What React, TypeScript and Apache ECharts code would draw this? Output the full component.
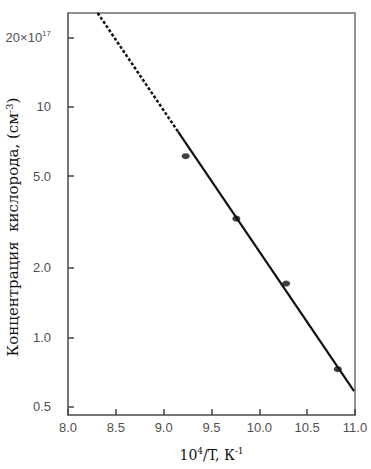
import React, { useEffect, useRef } from "react";
import * as echarts from "echarts";

const pointX = [9.23, 9.76, 10.28, 10.82];
const pointY = [6.1, 3.27, 1.71, 0.727];

const dashedFitX = [8.31, 9.15];
const dashedFitY = [25.5, 7.8];
const solidFitX = [9.15, 10.99];
const solidFitY = [7.8, 0.584];

const yMin = 0.46;
const yMax = 25.5;
const yTickValues = [0.5, 1, 2, 5, 10, 20];
const yTickLabels = ["0.5", "1.0", "2.0", "5.0", "10", "20×10"];

export default function App() {
  const ref = useRef<HTMLDivElement>(null);
  useEffect(() => {
    if (!ref.current) return;
    const chart = echarts.init(ref.current, null, { renderer: "svg" });
    const tickFont = {
      color: "#505050",
      fontFamily: "Liberation Sans, Arial, sans-serif",
      fontSize: 13,
    };
    const serif = "DejaVu Serif, Liberation Serif, serif";
    chart.setOption({
      animation: false,
      backgroundColor: "#fff",
      grid: {
        left: 68,
        right: 16,
        top: 13,
        bottom: 54,
        show: true,
        borderColor: "#6e6e6e",
        borderWidth: 1.5,
      },
      xAxis: {
        type: "value",
        min: 8,
        max: 11,
        interval: 0.5,
        name: "10{s|4}/T, К{s|-1}",
        nameLocation: "middle",
        nameGap: 31,
        nameTextStyle: {
          fontFamily: serif,
          fontSize: 14,
          color: "#111",
          rich: {
            s: {
              fontFamily: serif,
              fontSize: 9,
              color: "#111",
              verticalAlign: "top",
              padding: [0, 0, 8, 0],
            },
          },
        },
        axisLine: {
          show: true,
          onZero: false,
          lineStyle: { color: "#6e6e6e", width: 1.5 },
        },
        axisTick: {
          show: true,
          inside: true,
          length: 6,
          lineStyle: { color: "#444", width: 1.5 },
        },
        splitLine: { show: false },
        axisLabel: {
          ...tickFont,
          margin: 6,
          formatter: (v: number) => v.toFixed(1),
        },
      },
      yAxis: [
        {
          type: "log",
          logBase: 10,
          min: yMin,
          max: yMax,
          alignTicks: false,
          axisLine: {
            show: true,
            onZero: false,
            lineStyle: { color: "#6e6e6e", width: 1.5 },
          },
          axisTick: { show: false },
          minorTick: { show: false },
          splitLine: { show: false },
          axisLabel: {
            ...tickFont,
            margin: 17,
            customValues: yTickValues,
            formatter: (v: number) => {
              const i = yTickValues.findIndex((t) => Math.abs(t - v) < 1e-6);
              const lab = i >= 0 ? yTickLabels[i] : String(v);
              return v === 20 ? "{a|" + lab + "}{s|17}" : lab;
            },
            rich: {
              a: { ...tickFont },
              s: {
                ...tickFont,
                fontSize: 8,
                verticalAlign: "top",
                padding: [0, 0, 8, 0],
              },
            },
          },
        },
        {
          // tick-mark carrier: same log extent, expressed as exponents
          type: "value",
          position: "left",
          offset: 0,
          alignTicks: false,
          min: Math.log10(yMin),
          max: Math.log10(yMax),
          axisLine: { show: false, onZero: false },
          axisLabel: { show: false },
          splitLine: { show: false },
          axisTick: {
            show: true,
            inside: true,
            length: 6,
            customValues: yTickValues.map((v) => Math.log10(v)),
            lineStyle: { color: "#444", width: 1.5 },
          },
        },
      ],
      graphic: [
        {
          type: "text",
          x: 13,
          y: 227,
          rotation: Math.PI / 2,
          style: {
            text: "Концентрация  кислорода, (см{s|-3})",
            fontFamily: serif,
            fontSize: 15,
            fill: "#111",
            align: "center",
            verticalAlign: "middle",
            rich: {
              s: {
                fontFamily: serif,
                fontSize: 10,
                fill: "#111",
                verticalAlign: "top",
                padding: [0, 0, 8, 0],
              },
            },
          },
        },
      ],
      series: [
        {
          type: "line",
          yAxisIndex: 0,
          data: dashedFitX.map((x, i) => [x, dashedFitY[i]]),
          showSymbol: false,
          lineStyle: { color: "#111", width: 2.5, type: [3, 2] },
        },
        {
          type: "line",
          yAxisIndex: 0,
          data: solidFitX.map((x, i) => [x, solidFitY[i]]),
          showSymbol: false,
          lineStyle: { color: "#111", width: 2.2 },
        },
        {
          type: "scatter",
          yAxisIndex: 0,
          data: pointX.map((x, i) => [x, pointY[i]]),
          symbol: "circle",
          symbolSize: [8, 6],
          itemStyle: { color: "#111" },
        },
      ],
    });
    return () => chart.dispose();
  }, []);
  return (
    <div
      ref={ref}
      style={{ position: "fixed", left: 0, top: 0, width: 371, height: 469 }}
    />
  );
}
